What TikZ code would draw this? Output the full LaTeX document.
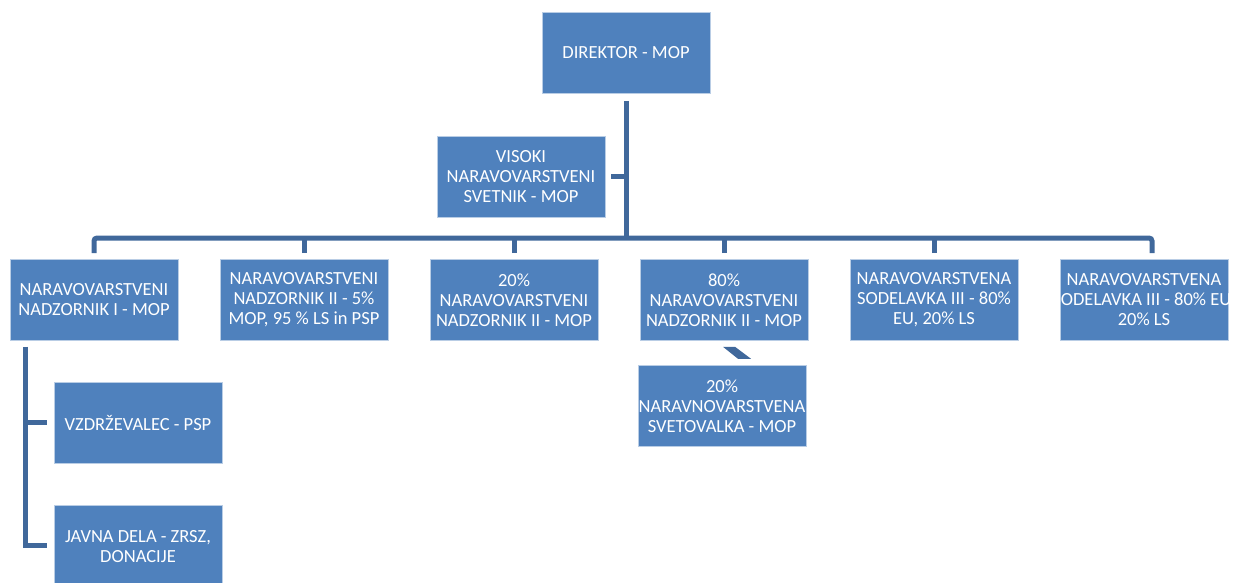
\documentclass[tikz,border=0pt]{standalone}
\usepackage{fontspec}
\setmainfont{Carlito}
\begin{document}
\begin{tikzpicture}[x=1pt,y=-1pt,
  box/.style={draw=white!60!boxblue, line width=0.6pt, fill=boxblue, minimum width=168pt, minimum height=81pt, inner sep=0pt},
  txt/.style={text=white, align=center, inner sep=0pt, font=\fontsize{18.5}{20}\selectfont},
  conn/.style={draw=linecol, line width=5pt}]
\definecolor{boxblue}{HTML}{4F81BD}
\definecolor{linecol}{HTML}{40689B}
\useasboundingbox (0,0) rectangle (1243,582);
% nodes
\node[box] (dir) at (626,53) {};
\node[txt] at (dir) {DIREKTOR - MOP};
\node[box] (vis) at (521,176.5) {};
\node[txt] at (vis) {VISOKI\\NARAVOVARSTVENI\\SVETNIK - MOP};
\node[box] (b1) at (94,300) {};
\node[txt] at (b1) {NARAVOVARSTVENI\\NADZORNIK I - MOP};
\node[box] (b2) at (304,300) {};
\node[txt] at (b2) {NARAVOVARSTVENI\\NADZORNIK II - 5\%\\MOP, 95 \% LS in PSP};
\node[box] (b3) at (514,300) {};
\node[txt] at (b3) {20\%\\NARAVOVARSTVENI\\NADZORNIK II - MOP};
\node[box] (b4) at (724,300) {};
\node[txt] at (b4) {80\%\\NARAVOVARSTVENI\\NADZORNIK II - MOP};
\node[box] (b5) at (934,300) {};
\node[txt] at (b5) {NARAVOVARSTVENA\\SODELAVKA III - 80\%\\EU, 20\% LS};
\node[box] (b6) at (1144,300) {};
\node[txt] at (b6) {NARAVOVARSTVENA\\SODELAVKA III - 80\% EU,\\20\% LS};
\node[box] (sv) at (722,406) {};
\node[txt] at (sv) {20\%\\NARAVNOVARSTVENA\\SVETOVALKA - MOP};
\node[box] (vz) at (138,422.5) {};
\node[txt] at (vz) {VZDRŽEVALEC - PSP};
\node[box] (jd) at (138,545.5) {};
\node[txt] at ([yshift=-1.5pt]jd) {JAVNA DELA - ZRSZ,\\DONACIJE};
% connectors
\coordinate (bar) at (626,238);
\coordinate (vstub) at (626,176.5);
\coordinate (b6drop) at ([xshift=8pt,yshift=6pt]b6.north);
\draw[conn] ([yshift=-7pt]dir.south) -- (bar);
\draw[conn] ([xshift=6pt]vis.east) -- (vstub);
\draw[conn, rounded corners=3pt] ([yshift=6pt]b1.north) |- (bar) -| (b6drop);
\foreach \b in {b2,b3,b4,b5} \draw[conn] ([yshift=6pt]\b.north) -- (\b.north |- bar);
\fill[linecol] ([shift={(-1pt,-6pt)}]b4.south) -- ++(12pt,0) -- ++(16pt,-12pt) -- ++(-13pt,0) -- cycle;
\draw[conn] ([shift={(16pt,-6pt)}]b1.south west) |- ([xshift=-7pt]vz.west);
\draw[conn] ([shift={(16pt,-6pt)}]b1.south west) |- ([xshift=-7pt]jd.west);
\end{tikzpicture}
\end{document}
